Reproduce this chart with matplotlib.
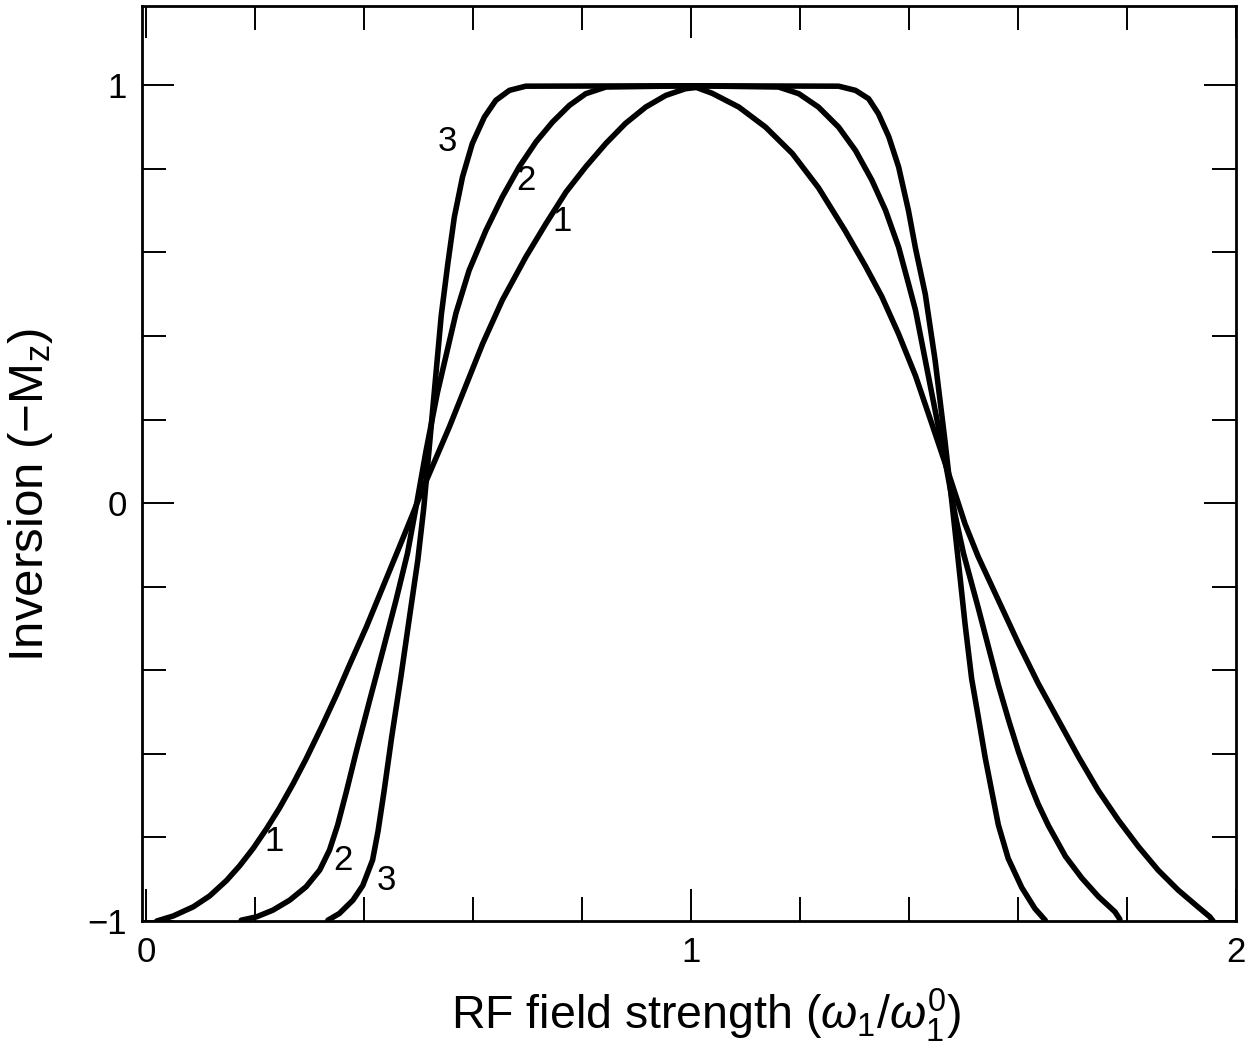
import matplotlib
matplotlib.use("Agg")
import matplotlib.pyplot as plt
from matplotlib.ticker import MultipleLocator

plt.rcParams["font.family"] = ["Liberation Sans", "DejaVu Sans"]
plt.rcParams["mathtext.fontset"] = "custom"
plt.rcParams["mathtext.rm"] = "Liberation Sans"
plt.rcParams["mathtext.it"] = "Liberation Sans:italic"
plt.rcParams["mathtext.bf"] = "Liberation Sans:bold"

# curve 1 (single pulse)
x1 = [0.020, 0.050, 0.087, 0.117, 0.148, 0.172, 0.197, 0.221, 0.245, 0.270, 0.294,
      0.323, 0.350, 0.374, 0.405, 0.435, 0.465, 0.490, 0.505, 0.557, 0.618, 0.654,
      0.697, 0.734, 0.771, 0.807, 0.844, 0.880, 0.917, 0.954, 0.990, 1.010, 1.039,
      1.088, 1.137, 1.186, 1.234, 1.283, 1.320, 1.350, 1.381, 1.412, 1.442, 1.473,
      1.503, 1.527, 1.564, 1.601, 1.637, 1.674, 1.711, 1.747, 1.784, 1.821, 1.857,
      1.894, 1.930, 1.952, 1.958]
y1 = [-1.0, -0.988, -0.966, -0.940, -0.903, -0.868, -0.826, -0.780, -0.730, -0.672, -0.612,
      -0.534, -0.458, -0.386, -0.295, -0.200, -0.105, -0.025, 0.025, 0.183, 0.382, 0.486,
      0.589, 0.669, 0.745, 0.805, 0.861, 0.909, 0.948, 0.976, 0.992, 0.995, 0.981,
      0.948, 0.900, 0.837, 0.755, 0.652, 0.568, 0.495, 0.405, 0.305, 0.190, 0.070,
      -0.050, -0.128, -0.232, -0.336, -0.431, -0.519, -0.607, -0.687, -0.758, -0.822, -0.878,
      -0.926, -0.966, -0.990, -1.0]

# curve 2
x2 = [0.175, 0.203, 0.233, 0.264, 0.294, 0.319, 0.337, 0.352, 0.368, 0.386, 0.410,
      0.435, 0.459, 0.480, 0.497, 0.514, 0.535, 0.552, 0.569, 0.593, 0.624, 0.654,
      0.685, 0.716, 0.746, 0.777, 0.807, 0.844, 1.000, 1.161, 1.198, 1.234, 1.271,
      1.302, 1.332, 1.357, 1.381, 1.399, 1.412, 1.442, 1.466, 1.485, 1.500, 1.527,
      1.546, 1.564, 1.583, 1.601, 1.620, 1.637, 1.656, 1.687, 1.717, 1.748, 1.778,
      1.787]
y2 = [-0.998, -0.990, -0.974, -0.950, -0.918, -0.878, -0.830, -0.770, -0.690, -0.595, -0.475,
      -0.352, -0.232, -0.120, 0.000, 0.125, 0.265, 0.360, 0.455, 0.557, 0.653, 0.733,
      0.805, 0.865, 0.912, 0.952, 0.980, 0.996, 0.999, 0.996, 0.980, 0.948, 0.900,
      0.844, 0.773, 0.701, 0.613, 0.526, 0.462, 0.262, 0.103, -0.030, -0.120, -0.250,
      -0.345, -0.435, -0.520, -0.595, -0.665, -0.720, -0.772, -0.845, -0.897, -0.942, -0.978,
      -0.996]

# curve 3
x3 = [0.334, 0.355, 0.380, 0.398, 0.416, 0.426, 0.437, 0.451, 0.468, 0.484, 0.499,
      0.510, 0.526, 0.542, 0.554, 0.566, 0.581, 0.599, 0.621, 0.642, 0.667, 0.697,
      1.000, 1.271, 1.302, 1.326, 1.344, 1.363, 1.381, 1.399, 1.412, 1.430, 1.448,
      1.466, 1.479, 1.491, 1.503, 1.515, 1.527, 1.540, 1.552, 1.564, 1.582, 1.607,
      1.631, 1.650]
y3 = [-0.998, -0.982, -0.950, -0.915, -0.854, -0.785, -0.690, -0.560, -0.415, -0.270, -0.136,
      -0.010, 0.220, 0.450, 0.573, 0.685, 0.781, 0.861, 0.924, 0.964, 0.988, 0.998,
      0.999, 0.998, 0.988, 0.968, 0.932, 0.877, 0.805, 0.701, 0.610, 0.500, 0.342,
      0.150, 0.000, -0.144, -0.290, -0.420, -0.510, -0.610, -0.690, -0.770, -0.850, -0.920,
      -0.970, -0.998]

curve_names = ["1", "2", "3"]
# where the numbers sit next to the curves (data coords)
label_pos = [[(0.764, 0.673), (0.236, -0.810)],
             [(0.697, 0.773), (0.361, -0.854)],
             [(0.554, 0.865), (0.441, -0.902)]]

fig = plt.figure(figsize=(12.49, 10.47), dpi=100)
ax = fig.add_axes([0.1137, 0.1203, 0.8759, 0.874])

for xs, ys in [(x1, y1), (x2, y2), (x3, y3)]:
    ax.plot(xs, ys, color="black", lw=4, solid_capstyle="round", solid_joinstyle="round")

for name, positions in zip(curve_names, label_pos):
    for px, py in positions:
        ax.text(px, py, name, fontsize=25, ha="center", va="center")

ax.set_xlim(-0.007, 1.997)
ax.set_ylim(-1.0, 1.19)

ax.set_xticks([0, 1, 2])
ax.set_xticklabels(["0", "1", "2"])
ax.set_yticks([-1, 0, 1])
ax.set_yticklabels(["\u22121", "0", "1"])
ax.xaxis.set_minor_locator(MultipleLocator(0.2))
ax.yaxis.set_minor_locator(MultipleLocator(0.2))

ax.tick_params(which="both", direction="in", top=True, right=True, width=1.4, labelsize=25)
ax.tick_params(which="major", length=23, pad=11)
ax.tick_params(which="minor", length=17)

for sp in ax.spines.values():
    sp.set_linewidth(2)

ax.set_xlabel(r"RF field strength ($\omega_1/\omega_1^0$)", fontsize=33.5)
ax.xaxis.set_label_coords(0.5155, -0.118)
ax.xaxis.label.set_va("baseline")
ax.set_ylabel(r"Inversion ($-$M$_{\rm z}$)", fontsize=35.5)
ax.yaxis.set_label_coords(-0.102, 0.4656)
ax.yaxis.label.set_va("center")

fig.savefig("out.png", dpi=100)
